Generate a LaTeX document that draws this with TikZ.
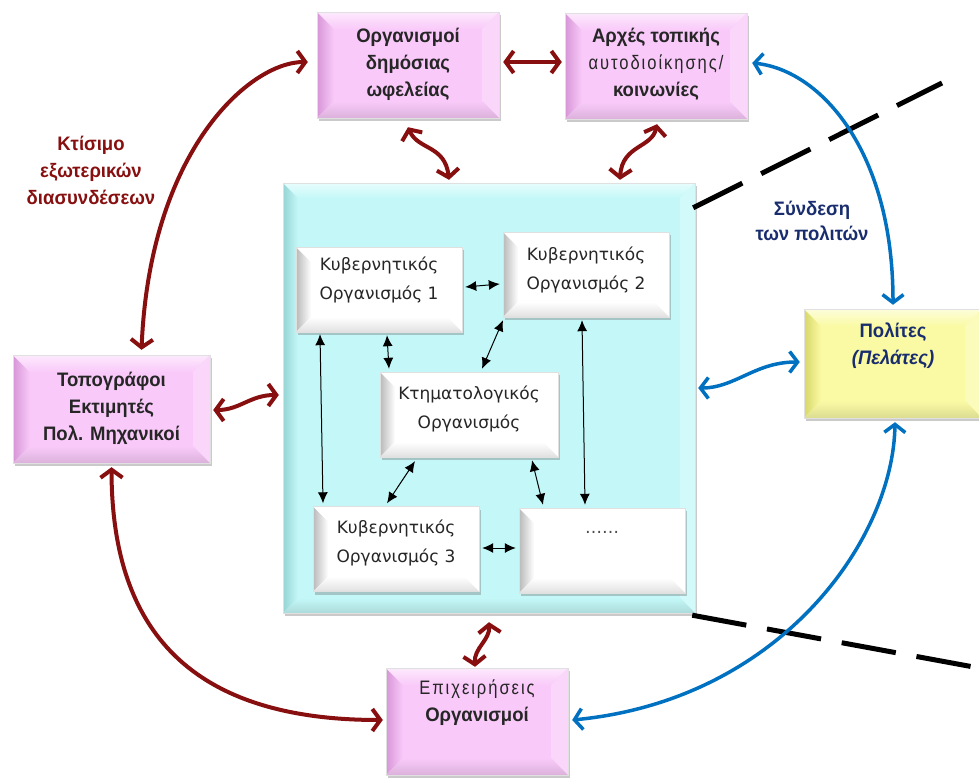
\documentclass[tikz,border=0pt]{standalone}
\usepackage{fontspec}
\setmainfont{Liberation Sans}
\newfontfamily\hdfont[FakeStretch=0.95]{Liberation Sans}
\newfontfamily\spfont[FakeStretch=0.85,LetterSpace=10]{Liberation Sans}
\newfontfamily\infont{DejaVu Sans}
\usetikzlibrary{arrows.meta,calc,shadows}
\definecolor{dred}{RGB}{135,15,15}
\definecolor{ablue}{RGB}{0,112,192}
\definecolor{navy}{RGB}{25,45,110}
\definecolor{pinkb}{RGB}{249,202,249}
\definecolor{pinkd}{RGB}{215,150,215}
\definecolor{cyanb}{RGB}{196,248,248}
\definecolor{cyand}{RGB}{150,212,212}
\definecolor{yelb}{RGB}{250,250,165}
\definecolor{yeld}{RGB}{215,215,105}
\definecolor{whb}{RGB}{255,255,255}
\definecolor{grayd}{RGB}{185,185,185}
\tikzset{
  bevel/.style n args={3}{
    fill=#1, draw=black!12, line width=0.4pt,
    drop shadow={shadow xshift=2pt,shadow yshift=-3pt,opacity=0.35,fill=black!60},
    path picture={
      \coordinate (bA) at (path picture bounding box.south west);
      \coordinate (bB) at (path picture bounding box.south east);
      \coordinate (bC) at (path picture bounding box.north east);
      \coordinate (bD) at (path picture bounding box.north west);
      \coordinate (ba) at ($(bA)+(#3,#3)$);
      \coordinate (bb) at ($(bB)+(-#3,#3)$);
      \coordinate (bc) at ($(bC)+(-#3,-#3)$);
      \coordinate (bd) at ($(bD)+(#3,-#3)$);
      \shade[left color=#2,right color=#1] (bA)--(ba)--(bd)--(bD)--cycle;
      \shade[top color=#1!40!white,bottom color=#1] (bD)--(bd)--(bc)--(bC)--cycle;
      \fill[#1!75!white] (bC)--(bc)--(bb)--(bB)--cycle;
      \shade[bottom color=#1!88!black,top color=#1] (bA)--(ba)--(bb)--(bB)--cycle;
    }
  },
  pinkbox/.style={bevel={pinkb}{pinkd}{17pt}, minimum width=182pt, minimum height=106pt},
  innerbox/.style={bevel={whb}{grayd}{15pt}, minimum width=166pt, minimum height=85pt},
  hd/.style={font=\hdfont\bfseries\fontsize{19.5}{27}\selectfont, align=center, text=black!85},
  intext/.style={font=\infont\fontsize{17}{29}\selectfont, align=center, text=black!85},
  redarr/.style={draw=dred, line width=4pt,
    {Straight Barb[length=8pt,width=22pt,line width=4pt]}-{Straight Barb[length=8pt,width=22pt,line width=4pt]}},
  bluearr/.style={draw=ablue, line width=3.5pt,
    {Straight Barb[length=8pt,width=21pt,line width=3.5pt]}-{Straight Barb[length=8pt,width=21pt,line width=3.5pt]}},
  blkarr/.style={draw=black, line width=1pt, {Latex[length=11pt,width=10pt]}-{Latex[length=11pt,width=10pt]}},
  dashline/.style={draw=black, line width=5pt, dash pattern=on 55pt off 21pt}
}
\begin{document}
\begin{tikzpicture}[x=1pt,y=-1pt]
\useasboundingbox (0,0) rectangle (979,778);
% central box
\node[bevel={cyanb}{cyand}{15pt}, minimum width=412pt, minimum height=430pt] (central) at (489,398) {};
% inner boxes
\node[innerbox] (ko1) at (379,289.5) {};
\node[innerbox] (ko2) at (586,274.5) {};
\node[innerbox, minimum width=178pt] (ktim) at (469,414.5) {};
\node[innerbox] (ko3) at (396,549) {};
\node[innerbox] (dots) at (602,550.5) {};
\node[intext] (ko1t) at (379,280) {Κυβερνητικός\\Οργανισμός 1};
\node[intext] (ko2t) at (586,270) {Κυβερνητικός\\Οργανισμός 2};
\node[intext] (ktimt) at (469,408.5) {Κτηματολογικός\\Οργανισμός};
\node[intext] (ko3t) at (396,543) {Κυβερνητικός\\Οργανισμός 3};
\node[intext, text=black!70] (dotst) at (602,532) {……};
% outer boxes
\node[pinkbox] (org) at (408,65) {};
\node[pinkbox] (arx) at (656,66) {};
\node[pinkbox, minimum width=197pt, minimum height=108pt] (topo) at (111.5,409) {};
\node[pinkbox, minimum height=107pt] (epi) at (477,721.5) {};
\node[bevel={yelb}{yeld}{17pt}, minimum width=178pt, minimum height=109pt] (pol) at (893,363.5) {};
\node[hd] (orgt) at (408,64) {Οργανισμοί\\δημόσιας\\ωφελείας};
\node[hd] (arxt) at (656,64) {Αρχές τοπικής\\{\spfont\mdseries αυτοδιοίκησης/}\\κοινωνίες};
\node[hd] (topot) at (111.5,408) {Τοπογράφοι\\Εκτιμητές\\Πολ. Μηχανικοί};
\node[hd] (epit) at (477,703) {{\spfont\mdseries Επιχειρήσεις}\\Οργανισμοί};
\node[hd, text=navy] (polt) at (893,346) {Πολίτες\\\itshape(Πελάτες)};
% labels
\node[hd, text=dred] (lab1) at (91,170) {Κτίσιμο\\εξωτερικών\\διασυνδέσεων};
\node[hd, text=navy, font=\hdfont\bfseries\fontsize{19.5}{25}\selectfont] (lab2) at (812,221) {Σύνδεση\\των πολιτών};
% dashed lines
\coordinate (d1) at (942,83);
\coordinate (d2) at (990,670);
\draw[dashline] ([xshift=-2pt,yshift=-25pt]central.north east) -- (d1);
\draw[dashline] ([xshift=-3pt,yshift=-2pt]central.south east) -- (d2);
% black arrows
\draw[blkarr] ([xshift=3pt,yshift=2.5pt]ko1.east) -- ([xshift=-3pt,yshift=-9.5pt]ko2.west);
\draw[blkarr] ([xshift=-59pt,yshift=-2pt]ko1.south) -- ([xshift=-73pt,yshift=3pt]ko3.north);
\draw[blkarr] ([xshift=8pt,yshift=-3pt]ko1.south) -- ([xshift=-80pt,yshift=3pt]ktim.north);
\draw[blkarr] ([xshift=-83pt,yshift=-3pt]ko2.south) -- ([xshift=13pt,yshift=3pt]ktim.north);
\draw[blkarr] ([xshift=-4pt,yshift=-3pt]ko2.south) -- ([xshift=-17pt,yshift=3pt]dots.north);
\draw[blkarr] ([xshift=-54pt,yshift=-4pt]ktim.south) -- ([xshift=-9pt,yshift=3pt]ko3.north);
\draw[blkarr] ([xshift=63pt,yshift=-3pt]ktim.south) -- ([xshift=-59pt,yshift=3pt]dots.north);
\draw[blkarr] ([xshift=3pt,yshift=1pt]ko3.east) -- ([xshift=-3pt,yshift=2.5pt]dots.west);
% red arrows
\draw[redarr] ([xshift=-9pt,yshift=3pt]org.west) .. controls (250,62) and (150,150) .. ([xshift=30pt,yshift=5pt]topo.north);
\draw[redarr] ([xshift=4pt,yshift=3pt]org.east) -- ([xshift=-3pt,yshift=4pt]arx.west);
\draw[redarr] ([yshift=-9pt]org.south) .. controls (418,150) and (445,145) .. ([xshift=-40pt,yshift=3pt]central.north);
\draw[redarr] ([xshift=1pt,yshift=-5pt]arx.south) .. controls (652,148) and (622,145) .. ([xshift=131pt,yshift=3pt]central.north);
\draw[redarr] ([xshift=3pt,yshift=-1pt]topo.east) .. controls (240,410) and (250,395) .. ([xshift=-4pt,yshift=3pt]central.west);
\draw[redarr] ([yshift=-9pt]central.south) .. controls (490,640) and (474,648) .. ([xshift=-2pt,yshift=1pt]epi.north);
\draw[redarr] ([yshift=-4pt]topo.south) .. controls (112,620) and (180,720) .. ([xshift=-3pt,yshift=1.5pt]epi.west);
% blue arrows
\draw[bluearr] ([xshift=5pt,yshift=3pt]arx.east) .. controls (820,70) and (893,150) .. ([yshift=4pt]pol.north);
\draw[bluearr] ([xshift=3pt,yshift=10pt]central.east) .. controls (735,388) and (755,362) .. ([xshift=-4pt,yshift=1.5pt]pol.west);
\draw[bluearr] ([xshift=2pt,yshift=-4pt]pol.south) .. controls (893,540) and (780,700) .. ([xshift=4pt,yshift=1.5pt]epi.east);
\end{tikzpicture}
\end{document}
